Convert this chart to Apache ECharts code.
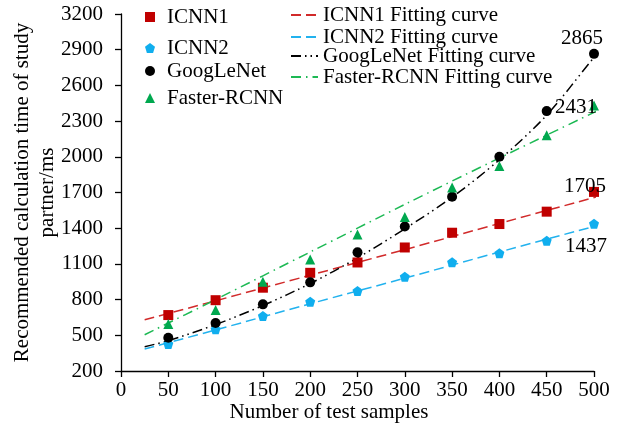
<!DOCTYPE html>
<html>
<head>
<meta charset="utf-8">
<script src="https://cdn.jsdelivr.net/npm/echarts@6/dist/echarts.min.js"></script>
<style>
  html, body { margin: 0; padding: 0; background: #fff; }
  #chart { width: 621px; height: 426px; }
</style>
</head>
<body>
<div id="chart"></div>
<script>
// Measured calculation time (ms) against number of test samples
const sampleCounts    = [50, 100, 150, 200, 250, 300, 350, 400, 450, 500];
const icnn1Times      = [670, 795, 900, 1025, 1112, 1238, 1362, 1435, 1539, 1705];
const icnn2Times      = [427, 550, 662, 782, 872, 992, 1113, 1189, 1295, 1437];
const googLeNetTimes  = [480, 603, 760, 945, 1197, 1415, 1664, 2000, 2384, 2865];
const fasterRcnnTimes = [595, 712, 950, 1138, 1348, 1495, 1743, 1922, 2182, 2431];

// Fitted trend curves, sampled along each curve
const icnn1FitX      = [25, 100, 200, 300, 400, 508];
const icnn1FitY      = [630, 790, 1005, 1220, 1440, 1675];
const icnn2FitX      = [25, 100, 200, 300, 400, 508];
const icnn2FitY      = [385, 545, 765, 980, 1200, 1432];
const googLeNetFitX  = [25, 50, 100, 150, 200, 250, 300, 350, 400, 450, 500, 517];
const googLeNetFitY  = [404, 455, 590, 750, 935, 1150, 1395, 1660, 1975, 2350, 2835, 2985];
const fasterRcnnFitX = [25, 100, 200, 300, 400, 514];
const fasterRcnnFitY = [505, 800, 1200, 1600, 1990, 2427];

// Axis tick values
const xTicks = [0, 50, 100, 150, 200, 250, 300, 350, 400, 450, 500];
const yTicks = [200, 500, 800, 1100, 1400, 1700, 2000, 2300, 2600, 2900, 3200];

const FONT = 'Liberation Serif';
const pair = (xs, ys) => xs.map((x, i) => [x, ys[i]]);

// Scatter points; the last point of a series may carry a value label
function pointData(values, labelOffset) {
  return sampleCounts.map((x, i) => {
    if (labelOffset && i === values.length - 1) {
      return {
        value: [x, values[i]],
        label: {
          show: true,
          position: 'inside',
          offset: labelOffset,
          formatter: p => String(p.value[1]),
          fontFamily: FONT, fontSize: 21, color: '#000'
        }
      };
    }
    return [x, values[i]];
  });
}

const pentagon = 'path://M50,0 L100,37 L81,100 L19,100 L0,37 Z';

const pointSeries = [
  { name: 'ICNN1',       symbol: 'rect',     color: '#c00000', data: pointData(icnn1Times, [-9, -5]) },
  { name: 'ICNN2',       symbol: pentagon,   color: '#10aeee', data: pointData(icnn2Times, [-8, 23]) },
  { name: 'GoogLeNet',   symbol: 'circle',   color: '#000000', data: pointData(googLeNetTimes, [-12, -15]) },
  { name: 'Faster-RCNN', symbol: 'triangle', color: '#00a84f', data: pointData(fasterRcnnTimes, [-18, 2]) }
].map(s => ({
  type: 'scatter',
  name: s.name,
  symbol: s.symbol,
  symbolSize: 10,
  itemStyle: { color: s.color, opacity: 1 },
  data: s.data,
  z: 3
}));

const fitSeries = [
  { name: 'ICNN1 Fitting curve',       color: '#d12a2a', dash: [10, 5],                 data: pair(icnn1FitX, icnn1FitY) },
  { name: 'ICNN2 Fitting curve',       color: '#22b2ee', dash: [10, 5],                 data: pair(icnn2FitX, icnn2FitY) },
  { name: 'GoogLeNet Fitting curve',   color: '#000000', dash: [10, 4, 1.5, 4, 1.5, 4], data: pair(googLeNetFitX, googLeNetFitY) },
  { name: 'Faster-RCNN Fitting curve', color: '#1db954', dash: [10, 5, 1.5, 5],         data: pair(fasterRcnnFitX, fasterRcnnFitY) }
].map(s => ({
  type: 'line',
  name: s.name,
  symbol: 'none',
  smooth: 0.3,
  lineStyle: { color: s.color, width: 1.5, type: s.dash },
  itemStyle: { color: s.color },
  data: s.data,
  z: 2
}));

// One legend block per entry so each row sits where it should
const legendText = { fontFamily: FONT, fontSize: 21, color: '#000' };
const markerRowCentres = [17, 48, 71, 98];
const lineRowCentres = [15, 37, 56, 77];
const legends = [];
pointSeries.forEach((s, i) => legends.push({
  data: [s.name], left: 145, top: markerRowCentres[i] - 10.5, padding: 0,
  itemWidth: 10, itemHeight: 10, selectedMode: false,
  textStyle: Object.assign({ padding: [0, 0, 0, 7] }, legendText)
}));
fitSeries.forEach((s, i) => legends.push({
  data: [s.name], left: 290, top: lineRowCentres[i] - 10.5, padding: 0,
  itemWidth: 27, itemHeight: 12, selectedMode: false,
  itemStyle: { opacity: 0 },
  textStyle: legendText
}));

const axisLine = { show: true, lineStyle: { color: '#000', width: 1.3 } };
const plainNumber = v => String(v);

const chart = echarts.init(document.getElementById('chart'), null, { renderer: 'canvas' });
chart.setOption({
  animation: false,
  backgroundColor: '#fff',
  grid: { left: 121, right: 27, top: 14, bottom: 55, containLabel: false, outerBoundsMode: 'none' },
  legend: legends,
  xAxis: {
    type: 'value',
    min: 0, max: 500,
    name: 'Number of test samples',
    nameLocation: 'middle',
    nameGap: 31,
    nameMoveOverlap: false,
    nameTextStyle: { fontFamily: FONT, fontSize: 21, color: '#000', padding: [0, 57, 0, 0] },
    axisLine: axisLine,
    axisTick: { show: true, inside: false, length: 6, lineStyle: { color: '#000', width: 1.3 }, customValues: xTicks },
    axisLabel: { fontFamily: FONT, fontSize: 21, color: '#000', margin: 9, customValues: xTicks, formatter: plainNumber },
    splitLine: { show: false }
  },
  yAxis: {
    type: 'value',
    min: 200, max: 3200,
    name: 'Recommended calculation time of study\npartner/ms',
    nameLocation: 'middle',
    nameRotate: 90,
    nameGap: 61,
    nameMoveOverlap: false,
    nameTextStyle: { fontFamily: FONT, fontSize: 21, color: '#000', lineHeight: 25 },
    axisLine: axisLine,
    axisTick: { show: true, inside: false, length: 6, lineStyle: { color: '#000', width: 1.3 }, customValues: yTicks },
    axisLabel: { fontFamily: FONT, fontSize: 21, color: '#000', margin: 18, customValues: yTicks, formatter: plainNumber },
    splitLine: { show: false }
  },
  series: fitSeries.concat(pointSeries)
});
</script>
</body>
</html>
